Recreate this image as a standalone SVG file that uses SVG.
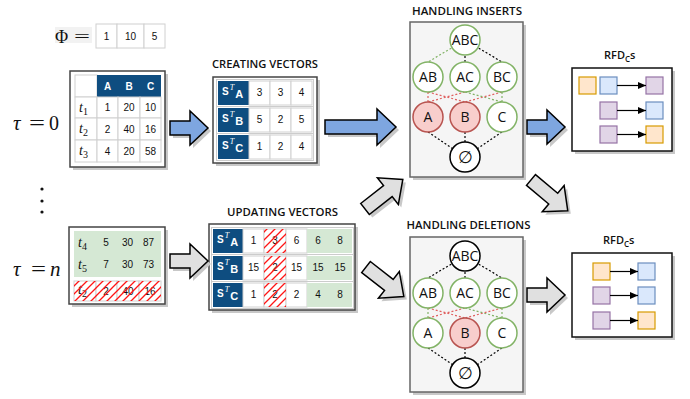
<svg xmlns="http://www.w3.org/2000/svg" xmlns:xlink="http://www.w3.org/1999/xlink" width="690" height="399" viewBox="0 0 690 399">
<style>
.cell{fill:#fff;stroke:#d0d0d0;stroke-width:1}
.dark{fill:#0e4d80}
.green{fill:#d5e8d4}
.hatch{fill:url(#hatch)}
.num{font-family:"Liberation Sans",Arial,sans-serif;font-size:10px;fill:#111;text-anchor:middle}
.hd{font-family:"Liberation Sans",Arial,sans-serif;font-size:10px;font-weight:bold;fill:#fff;text-anchor:middle}
.lbl{font-family:"Liberation Sans",Arial,sans-serif;font-size:10px;font-weight:bold;fill:#fff}
.sup{font-family:"Liberation Serif","Times New Roman",serif;font-style:italic;font-weight:normal;font-size:8px}
.math{font-family:"Liberation Serif","Times New Roman",serif;fill:#111}
.it{font-style:italic}
.ttl{font-family:"Open Sans",sans-serif;font-weight:600;font-size:11.5px;fill:#111;text-anchor:middle}
.rfd{font-family:"Open Sans",sans-serif;font-size:11px;font-weight:600;fill:#111}
.box{fill:#fff;stroke:#444;stroke-width:1.5}
.rbox{fill:#fff;stroke:#111;stroke-width:1.5}
.shd{fill:#c8c8c8;stroke:none}
.lat{fill:#f5f5f5;stroke:#666;stroke-width:1.5}
.ng{fill:#fff;stroke:#82b366;stroke-width:1.5}
.nr{fill:#f8cecc;stroke:#b85450;stroke-width:1.5}
.nk{fill:#fff;stroke:#000;stroke-width:1.5}
.nl{font-family:"Open Sans",sans-serif;font-size:14px;text-anchor:middle;fill:#111}
.es{font-family:"DejaVu Serif",serif;font-size:17px;text-anchor:middle;fill:#111}
.dk{stroke:#000;stroke-dasharray:2 2;stroke-width:1.2;fill:none}
.dg{stroke:#82b366;stroke-dasharray:2 2;stroke-width:1.2;fill:none}
.dr{stroke:#e06060;stroke-dasharray:2 2;stroke-width:1.2;fill:none}
.ab{fill:#7ea6e0;stroke:#000;stroke-width:1.5;stroke-linejoin:miter}
.ag{fill:#e0e0e0;stroke:#000;stroke-width:1.5;stroke-linejoin:miter}
.or{fill:#ffe6cc;stroke:#d79b00;stroke-width:1.2}
.bl{fill:#dae8fc;stroke:#6c8ebf;stroke-width:1.2}
.pu{fill:#e1d5e7;stroke:#9673a6;stroke-width:1.2}
.ln{stroke:#000;stroke-width:1.2;fill:none;marker-end:url(#ah)}
</style>
<defs>
<pattern id="hatch" patternUnits="userSpaceOnUse" width="8" height="8">
<path d="M-1,1 L1,-1 M0,8 L8,0 M7,9 L9,7" stroke="#ff1515" stroke-width="1.3"/>
</pattern>
<marker id="ah" markerUnits="userSpaceOnUse" markerWidth="8" markerHeight="7" refX="8" refY="3.5" orient="auto">
<path d="M0,0 L8,3.5 L0,7 z" fill="#000"/>
</marker>
<path id="arrS" d="M0,-7 H20 V-17 L38,0 L20,17 V7 H0 Z"/>
<path id="arrL" d="M0,-7 H52 V-18 L71,0 L52,18 V7 H0 Z"/>
<path id="arrD" d="M0,-7 H29 V-17 L48,0 L29,17 V7 H0 Z"/>
</defs>
<rect width="690" height="399" fill="#fff"/>

<g id="phi">
<rect x="55" y="27" width="37" height="16" fill="#f2f2f2"/>
<text class="math" x="55" y="42.5" font-size="18">Φ</text>
<text class="math" x="74" y="42" font-size="17" textLength="16" lengthAdjust="spacingAndGlyphs">=</text>
<rect class="cell" x="96" y="24" width="21" height="24"/>
<rect class="cell" x="117" y="24" width="27" height="24"/>
<rect class="cell" x="144" y="24" width="21" height="24"/>
<text class="num" x="106.5" y="40">1</text>
<text class="num" x="130.5" y="40">10</text>
<text class="num" x="154.5" y="40">5</text>
</g>

<g id="tau0">
<text class="math it" x="13" y="130" font-size="21">τ</text>
<text class="math" x="29" y="130" font-size="21" textLength="16" lengthAdjust="spacingAndGlyphs">=</text>
<text class="math" x="49" y="130" font-size="20">0</text>
</g>
<g id="vdots">
<circle cx="42" cy="189" r="1.6" fill="#111"/>
<circle cx="42" cy="201" r="1.6" fill="#111"/>
<circle cx="42" cy="212" r="1.6" fill="#111"/>
</g>
<g id="taun">
<text class="math it" x="13" y="276" font-size="21">τ</text>
<text class="math" x="31" y="276" font-size="21" textLength="15" lengthAdjust="spacingAndGlyphs">=</text>
<text class="math it" x="50" y="276" font-size="21">n</text>
</g>

<g id="table-t0">
<rect class="shd" x="73" y="74" width="95" height="96"/>
<rect class="box" x="70" y="71" width="95" height="96"/>
<rect class="cell" x="75" y="75" width="22" height="22"/>
<rect class="dark" x="97" y="75" width="64" height="22"/>
<rect class="cell" x="75" y="97" width="22" height="21"/><rect class="cell" x="97" y="97" width="21" height="21"/><rect class="cell" x="118" y="97" width="22" height="21"/><rect class="cell" x="140" y="97" width="21" height="21"/>
<rect class="cell" x="75" y="118" width="22" height="22"/><rect class="cell" x="97" y="118" width="21" height="22"/><rect class="cell" x="118" y="118" width="22" height="22"/><rect class="cell" x="140" y="118" width="21" height="22"/>
<rect class="cell" x="75" y="140" width="22" height="22"/><rect class="cell" x="97" y="140" width="21" height="22"/><rect class="cell" x="118" y="140" width="22" height="22"/><rect class="cell" x="140" y="140" width="21" height="22"/>
<text class="hd" x="107.5" y="89.5">A</text><text class="hd" x="129" y="89.5">B</text><text class="hd" x="150.5" y="89.5">C</text>
<text class="math it" x="79" y="112" font-size="14">t<tspan font-style="normal" font-size="10" dy="3">1</tspan></text>
<text class="math it" x="79" y="133" font-size="14">t<tspan font-style="normal" font-size="10" dy="3">2</tspan></text>
<text class="math it" x="79" y="155" font-size="14">t<tspan font-style="normal" font-size="10" dy="3">3</tspan></text>
<text class="num" x="107.5" y="111">1</text><text class="num" x="129" y="111">20</text><text class="num" x="150.5" y="111">10</text>
<text class="num" x="107.5" y="132.5">2</text><text class="num" x="129" y="132.5">40</text><text class="num" x="150.5" y="132.5">16</text>
<text class="num" x="107.5" y="154.5">4</text><text class="num" x="129" y="154.5">20</text><text class="num" x="150.5" y="154.5">58</text>
</g>

<g id="table-tn">
<rect class="shd" x="72" y="230" width="96" height="77"/>
<rect class="box" x="69" y="227" width="96" height="77"/>
<rect class="green" x="74" y="231" width="87" height="46"/>
<text class="math it" x="78" y="247" font-size="14">t<tspan font-style="normal" font-size="10" dy="3">4</tspan></text>
<text class="math it" x="78" y="269" font-size="14">t<tspan font-style="normal" font-size="10" dy="3">5</tspan></text>
<text class="num" x="106" y="246">5</text><text class="num" x="127.5" y="246">30</text><text class="num" x="148.5" y="246">87</text>
<text class="num" x="106" y="268">7</text><text class="num" x="127.5" y="268">30</text><text class="num" x="148.5" y="268">73</text>
<rect class="cell" x="74" y="281" width="22" height="20"/><rect class="cell" x="96" y="281" width="21" height="20"/><rect class="cell" x="117" y="281" width="22" height="20"/><rect class="cell" x="139" y="281" width="22" height="20"/>
<text class="math it" x="78" y="294" font-size="14">t<tspan font-style="normal" font-size="10" dy="3">2</tspan></text>
<text class="num" x="106" y="294.5">2</text><text class="num" x="128" y="294.5">40</text><text class="num" x="150" y="294.5">16</text>
<rect class="hatch" x="74" y="281" width="87" height="20"/>
</g>

<g id="creating-vectors">
<text class="ttl" x="265" y="68" textLength="106" lengthAdjust="spacingAndGlyphs">CREATING VECTORS</text>
<rect class="shd" x="216" y="80" width="104" height="86"/>
<rect class="box" x="213" y="77" width="104" height="86"/>
<g>
<rect x="216.5" y="79.5" width="97" height="27" fill="#fff" stroke="#ccc"/>
<rect class="dark" x="218" y="81" width="31" height="24"/>
<rect class="cell" x="249" y="81" width="21" height="24"/><rect class="cell" x="270" y="81" width="21" height="24"/><rect class="cell" x="291" y="81" width="21" height="24"/>
<text class="lbl" x="222" y="95">S<tspan class="sup" dx="1" dy="-5">T</tspan><tspan dx="1" dy="8" font-size="11">A</tspan></text>
<text class="num" x="259.5" y="96">3</text><text class="num" x="280.5" y="96">3</text><text class="num" x="301.5" y="96">4</text>
</g>
<g>
<rect x="216.5" y="106.5" width="97" height="27" fill="#fff" stroke="#ccc"/>
<rect class="dark" x="218" y="108" width="31" height="24"/>
<rect class="cell" x="249" y="108" width="21" height="24"/><rect class="cell" x="270" y="108" width="21" height="24"/><rect class="cell" x="291" y="108" width="21" height="24"/>
<text class="lbl" x="222" y="122">S<tspan class="sup" dx="1" dy="-5">T</tspan><tspan dx="1" dy="8" font-size="11">B</tspan></text>
<text class="num" x="259.5" y="123">5</text><text class="num" x="280.5" y="123">2</text><text class="num" x="301.5" y="123">5</text>
</g>
<g>
<rect x="216.5" y="133.5" width="97" height="27" fill="#fff" stroke="#ccc"/>
<rect class="dark" x="218" y="135" width="31" height="24"/>
<rect class="cell" x="249" y="135" width="21" height="24"/><rect class="cell" x="270" y="135" width="21" height="24"/><rect class="cell" x="291" y="135" width="21" height="24"/>
<text class="lbl" x="222" y="149">S<tspan class="sup" dx="1" dy="-5">T</tspan><tspan dx="1" dy="8" font-size="11">C</tspan></text>
<text class="num" x="259.5" y="150">1</text><text class="num" x="280.5" y="150">2</text><text class="num" x="301.5" y="150">4</text>
</g>
</g>

<g id="updating-vectors">
<text class="ttl" x="282.5" y="216" textLength="111" lengthAdjust="spacingAndGlyphs">UPDATING VECTORS</text>
<rect class="shd" x="212" y="227" width="146" height="86"/>
<rect class="box" x="209" y="224" width="146" height="86"/>
<g>
<rect x="211.5" y="227.5" width="142" height="27" fill="#fff" stroke="#ccc"/>
<rect class="dark" x="213" y="229" width="30" height="24"/>
<rect class="cell" x="243" y="229" width="21" height="24"/><rect class="cell" x="264" y="229" width="22" height="24"/><rect class="cell" x="286" y="229" width="21" height="24"/>
<rect class="green" x="307" y="229" width="45" height="24"/>
<text class="lbl" x="217" y="243">S<tspan class="sup" dx="1" dy="-5">T</tspan><tspan dx="1" dy="8" font-size="11">A</tspan></text>
<text class="num" x="253.5" y="244">1</text><text class="num" x="275" y="244">3</text><text class="num" x="296.5" y="244">6</text><text class="num" x="318" y="244">6</text><text class="num" x="340" y="244">8</text>
<rect class="hatch" x="264" y="229" width="22" height="24"/>
</g>
<g>
<rect x="211.5" y="254.5" width="142" height="27" fill="#fff" stroke="#ccc"/>
<rect class="dark" x="213" y="256" width="30" height="24"/>
<rect class="cell" x="243" y="256" width="21" height="24"/><rect class="cell" x="264" y="256" width="22" height="24"/><rect class="cell" x="286" y="256" width="21" height="24"/>
<rect class="green" x="307" y="256" width="45" height="24"/>
<text class="lbl" x="217" y="270">S<tspan class="sup" dx="1" dy="-5">T</tspan><tspan dx="1" dy="8" font-size="11">B</tspan></text>
<text class="num" x="253.5" y="271">15</text><text class="num" x="275" y="271">2</text><text class="num" x="296.5" y="271">15</text><text class="num" x="318" y="271">15</text><text class="num" x="340" y="271">15</text>
<rect class="hatch" x="264" y="256" width="22" height="24"/>
</g>
<g>
<rect x="211.5" y="281.5" width="142" height="27" fill="#fff" stroke="#ccc"/>
<rect class="dark" x="213" y="283" width="30" height="24"/>
<rect class="cell" x="243" y="283" width="21" height="24"/><rect class="cell" x="264" y="283" width="22" height="24"/><rect class="cell" x="286" y="283" width="21" height="24"/>
<rect class="green" x="307" y="283" width="45" height="24"/>
<text class="lbl" x="217" y="297">S<tspan class="sup" dx="1" dy="-5">T</tspan><tspan dx="1" dy="8" font-size="11">C</tspan></text>
<text class="num" x="253.5" y="298">1</text><text class="num" x="275" y="298">2</text><text class="num" x="296.5" y="298">2</text><text class="num" x="318" y="298">4</text><text class="num" x="340" y="298">8</text>
<rect class="hatch" x="264" y="283" width="22" height="24"/>
</g>
</g>

<g id="handling-inserts">
<text class="ttl" x="467" y="15" textLength="110" lengthAdjust="spacingAndGlyphs">HANDLING INSERTS</text>
<rect class="shd" x="413" y="25" width="113" height="155"/>
<rect class="lat" x="410" y="22" width="113" height="155"/>
</g>
<g id="handling-deletions">
<text class="ttl" x="468.5" y="229" textLength="124" lengthAdjust="spacingAndGlyphs">HANDLING DELETIONS</text>
<rect class="shd" x="413" y="240" width="113" height="155"/>
<rect class="lat" x="410" y="237" width="113" height="155"/>
</g>

<g id="rfd-top">
<text class="rfd" x="604" y="59">RFD<tspan font-size="8" dy="3">C</tspan><tspan dy="-3">s</tspan></text>
<rect class="shd" x="575" y="71" width="100" height="83"/>
<rect class="rbox" x="572" y="68" width="100" height="83"/>
<rect class="or" x="579" y="77" width="17" height="17"/>
<rect class="bl" x="600" y="77" width="17" height="17"/>
<rect class="pu" x="646" y="77" width="17" height="17"/>
<rect class="pu" x="600" y="102" width="17" height="17"/>
<rect class="bl" x="646" y="102" width="17" height="17"/>
<rect class="pu" x="600" y="126" width="17" height="17"/>
<rect class="or" x="646" y="126" width="17" height="17"/>
</g>
<g id="rfd-bottom">
<text class="rfd" x="603" y="244">RFD<tspan font-size="8" dy="3">C</tspan><tspan dy="-3">s</tspan></text>
<rect class="shd" x="575" y="256" width="100" height="84"/>
<rect class="rbox" x="572" y="253" width="100" height="84"/>
<rect class="or" x="593" y="263" width="17" height="17"/>
<rect class="bl" x="638" y="263" width="17" height="17"/>
<rect class="pu" x="593" y="287" width="17" height="17"/>
<rect class="bl" x="638" y="287" width="17" height="17"/>
<rect class="pu" x="593" y="312" width="17" height="17"/>
<rect class="or" x="638" y="312" width="17" height="17"/>
</g>

<g id="connectors">
<line class="dg" x1="465" y1="40" x2="428" y2="62"/>
<line class="dk" x1="465" y1="40" x2="465" y2="62"/>
<line class="dk" x1="465" y1="40" x2="502" y2="62"/>
<line class="dr" x1="428" y1="92" x2="428" y2="102"/>
<line class="dr" x1="428" y1="92" x2="465" y2="102"/>
<line class="dr" x1="465" y1="92" x2="428" y2="102"/>
<line class="dg" x1="465" y1="92" x2="502" y2="102"/>
<line class="dr" x1="502" y1="92" x2="465" y2="102"/>
<line class="dg" x1="502" y1="92" x2="502" y2="102"/>
<line class="dk" x1="428" y1="132" x2="465" y2="157"/>
<line class="dk" x1="465" y1="132" x2="465" y2="142"/>
<line class="dk" x1="502" y1="132" x2="465" y2="157"/>
<line class="dk" x1="465" y1="256" x2="428" y2="278"/>
<line class="dk" x1="465" y1="256" x2="465" y2="278"/>
<line class="dk" x1="465" y1="256" x2="502" y2="278"/>
<line class="dg" x1="428" y1="308" x2="428" y2="318"/>
<line class="dr" x1="428" y1="308" x2="465" y2="318"/>
<line class="dr" x1="465" y1="308" x2="428" y2="318"/>
<line class="dg" x1="465" y1="308" x2="502" y2="318"/>
<line class="dr" x1="502" y1="308" x2="465" y2="318"/>
<line class="dg" x1="502" y1="308" x2="502" y2="318"/>
<line class="dk" x1="428" y1="348" x2="465" y2="373"/>
<line class="dk" x1="465" y1="348" x2="465" y2="358"/>
<line class="dk" x1="502" y1="348" x2="465" y2="373"/>
<line class="ln" x1="617" y1="85.5" x2="646" y2="85.5"/>
<line class="ln" x1="617" y1="110.5" x2="646" y2="110.5"/>
<line class="ln" x1="617" y1="134.5" x2="646" y2="134.5"/>
<line class="ln" x1="610" y1="271.5" x2="638" y2="271.5"/>
<line class="ln" x1="610" y1="295.5" x2="638" y2="295.5"/>
<line class="ln" x1="610" y1="320.5" x2="638" y2="320.5"/>
<use xlink:href="#arrS" class="shd" transform="translate(173,131)"/>
<use xlink:href="#arrS" class="ab" transform="translate(170,128)"/>
<use xlink:href="#arrS" class="shd" transform="translate(173,264)"/>
<use xlink:href="#arrS" class="ag" transform="translate(170,261)"/>
<use xlink:href="#arrL" class="shd" transform="translate(328,130)"/>
<use xlink:href="#arrL" class="ab" transform="translate(325,127)"/>
<use xlink:href="#arrS" class="shd" transform="translate(530,130)"/>
<use xlink:href="#arrS" class="ab" transform="translate(527,127)"/>
<use xlink:href="#arrS" class="shd" transform="translate(530,298)"/>
<use xlink:href="#arrS" class="ag" transform="translate(527,295)"/>
<use xlink:href="#arrD" class="shd" transform="translate(368,212) rotate(-38)"/>
<use xlink:href="#arrD" class="ag" transform="translate(365,209) rotate(-38)"/>
<use xlink:href="#arrD" class="shd" transform="translate(369,270) rotate(38)"/>
<use xlink:href="#arrD" class="ag" transform="translate(366,267) rotate(38)"/>
<use xlink:href="#arrD" class="shd" transform="translate(534,183) rotate(40)"/>
<use xlink:href="#arrD" class="ag" transform="translate(531,180) rotate(40)"/>
</g>

<g id="ins-ABC"><circle class="ng" cx="465" cy="40" r="15"/><text class="nl" x="465" y="45">ABC</text></g>
<g id="ins-AB"><circle class="ng" cx="428" cy="77" r="15"/><text class="nl" x="428" y="82">AB</text></g>
<g id="ins-AC"><circle class="ng" cx="465" cy="77" r="15"/><text class="nl" x="465" y="82">AC</text></g>
<g id="ins-BC"><circle class="ng" cx="502" cy="77" r="15"/><text class="nl" x="502" y="82">BC</text></g>
<g id="ins-A"><circle class="nr" cx="428" cy="117" r="15"/><text class="nl" x="428" y="122">A</text></g>
<g id="ins-B"><circle class="nr" cx="465" cy="117" r="15"/><text class="nl" x="465" y="122">B</text></g>
<g id="ins-C"><circle class="ng" cx="502" cy="117" r="15"/><text class="nl" x="502" y="122">C</text></g>
<g id="ins-empty"><circle class="nk" cx="465" cy="157" r="15"/><text class="es" x="465" y="163">∅</text></g>

<g id="del-ABC"><circle class="nk" cx="465" cy="256" r="15"/><text class="nl" x="465" y="261">ABC</text></g>
<g id="del-AB"><circle class="ng" cx="428" cy="293" r="15"/><text class="nl" x="428" y="298">AB</text></g>
<g id="del-AC"><circle class="ng" cx="465" cy="293" r="15"/><text class="nl" x="465" y="298">AC</text></g>
<g id="del-BC"><circle class="ng" cx="502" cy="293" r="15"/><text class="nl" x="502" y="298">BC</text></g>
<g id="del-A"><circle class="ng" cx="428" cy="333" r="15"/><text class="nl" x="428" y="338">A</text></g>
<g id="del-B"><circle class="nr" cx="465" cy="333" r="15"/><text class="nl" x="465" y="338">B</text></g>
<g id="del-C"><circle class="ng" cx="502" cy="333" r="15"/><text class="nl" x="502" y="338">C</text></g>
<g id="del-empty"><circle class="nk" cx="465" cy="373" r="15"/><text class="es" x="465" y="379">∅</text></g>
</svg>
